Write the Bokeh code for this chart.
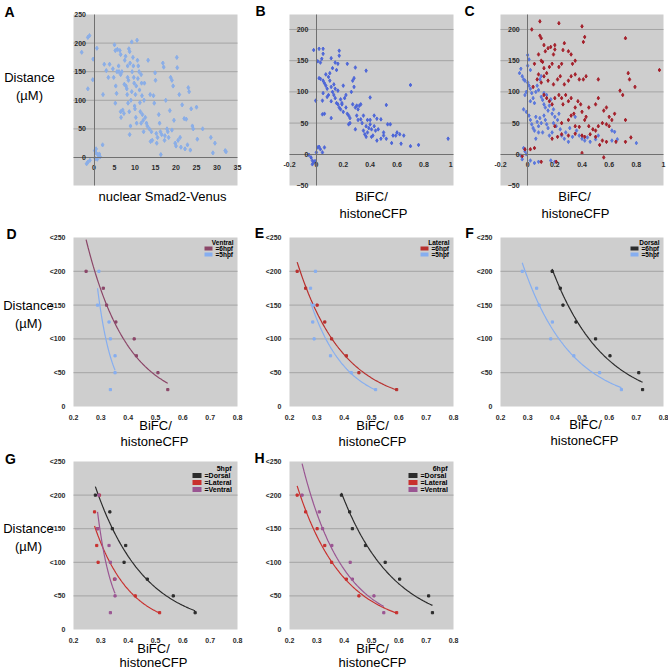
import numpy as np
from bokeh.plotting import figure
from bokeh.models import Range1d, LinearAxis, FixedTicker, Label, BoxAnnotation
from bokeh.layouts import row, column
from bokeh.embed import file_html
from bokeh.resources import INLINE

# ---------------- data ----------------
A_X = [-1.5, -1.1, -3.0, -0.2, 0.7, -0.3, -1.5, 2.2, 2.1,
       0.2, 0.5, 0.9, 1.2, 1.5, 0.3, -1.5, -1.8, -1.0, 0.8, 1.3, 0.5,
       2.5, 3, 3.5, 3.8, 4.6, 4.8, 5, 5.2, 5.3, 5.5,
       5.2, 5.7, 6.3, 6.1, 6, 6.5, 6.5, 6.5, 6.6, 7,
       7.3, 7.5, 7.7, 7.8, 8, 8.1, 8.2, 8.4, 8.3, 8.5,
       8.7, 8.8, 8.6, 8.7, 8.9, 9, 9.2, 9.3, 9.2, 9.5,
       9.6, 9.7, 9.8, 9.9, 10, 10.1, 10.3, 10.2, 10.4, 10.5,
       10.6, 10.8, 10.7, 11, 11.1, 11.2, 11.3, 11.5, 11.6, 11.7,
       11.8, 12, 12.1, 12.2, 12.3, 12.5, 12.8, 13, 13.2, 13.5,
       13.7, 14, 14.2, 14.5, 14.7, 14.9, 15, 15.2, 15.5, 15.3,
       15.8, 16, 16.2, 16.5, 16.3, 16.8, 17, 17.2, 17.5, 17.8,
       18, 18.2, 18.5, 18.7, 19, 19.3, 19.5, 19.8, 20, 20.2,
       20.3, 20.5, 20.8, 21, 21.2, 21.5, 22, 22.2, 22.5, 23,
       23.2, 23.5, 23.7, 24, 24.2, 25, 25.2, 26.5, 28.5, 29,
       29.5, 32, 32.2, 22.8, 19, 17.3, 13.8, 11.5, 8.2, 7.4,
       6.8, 5.6]
A_Y = [210, 213, 184, 172, 191, 136, 120, 110, 22,
       12, 8, 5, 3, 1, -2, -8, -11, -5, -3, 6, 15,
       163, 152, 140, 163, 155, 140, 197, 187, 125, 112,
       95, 189, 187, 150, 160, 145, 180, 80, 70, 83,
       77, 170, 177, 125, 120, 110, 140, 135, 95, 190,
       185, 165, 80, 40, 55, 100, 115, 150, 202, 175,
       160, 140, 130, 90, 85, 110, 125, 70, 60, 205,
       170, 160, 138, 150, 118, 96, 80, 145, 130, 108,
       75, 65, 45, 100, 130, 70, 60, 55, 170, 50,
       110, 45, 30, 108, 95, 148, 135, 42, 35, 25,
       75, 60, 45, 40, 5, 165, 158, 30, 100, 50,
       45, 35, 82, 140, 135, 125, 65, 25, 20, 175,
       157, 30, 110, 35, 18, 92, 68, 15, 67, 122,
       115, 13, 85, 55, 50, 88, 32, 50, 35, 8,
       25, 12, 10, 22, 48, 38, 28, 60, 160, 128,
       150, 150]

B_X = [-0.055, -0.04, -0.03, -0.02, 0, 0.01, 0.02, 0.03, 0.045, 0.06, -0.03, -0.01,
       -0.02, 0.02, 0.05, 0.05, 0.04, 0.01, 0.03, 0.17, 0.17, 0.11,
       0.14, 0.16, 0.23, 0.29, 0.37, -0.005, 0.045, 0.045, 0.11, 0.70,
       0.40, 0.52,
       0.02, 0.03, 0.05, 0.06, 0.07, 0.08, 0.09, 0.1, 0.1, 0.11,
       0.12, 0.12, 0.13, 0.13, 0.14, 0.14, 0.15, 0.15, 0.16, 0.16,
       0.17, 0.18, 0.18, 0.19, 0.2, 0.2, 0.21, 0.22, 0.23, 0.24,
       0.25, 0.25, 0.26, 0.27, 0.27, 0.28, 0.28, 0.29, 0.3, 0.3,
       0.31, 0.31, 0.32, 0.33, 0.34, 0.35, 0.35, 0.36, 0.37, 0.37,
       0.38, 0.39, 0.4, 0.4, 0.41, 0.42, 0.43, 0.43, 0.44, 0.45,
       0.45, 0.46, 0.48, 0.48, 0.5, 0.5, 0.52, 0.53, 0.55, 0.56,
       0.57, 0.59, 0.6, 0.62, 0.63, 0.65, 0.7, 0.76, 0.98, 0.06,
       0.09, 0.05, 0.07, 0.08, 0.11, 0.19, 0.22, 0.24, 0.33, 0.29,
       0.38, 0.41]
B_Y = [-1, -5, -10, -13, 3, 11, 12, 8, 3, 11, -16, -11,
       167, 169, 169, 161, 153, 149, 147, 166, 158, 154,
       147, 145, 145, 139, 134, 86, 86, 64, 58, 111,
       91, 79,
       122, 121, 118, 114, 110, 105, 124, 130, 118, 108,
       100, 138, 112, 95, 105, 90, 82, 135, 102, 80,
       75, 88, 72, 82, 110, 68, 90, 75, 65, 62,
       58, 50, 100, 118, 80, 122, 108, 75, 78, 62,
       55, 72, 78, 56, 50, 38, 62, 32, 28, 45,
       35, 42, 55, 48, 40, 30, 62, 45, 38, 22,
       57, 40, 25, 56, 35, 30, 25, 48, 48, 18,
       30, 30, 35, 32, 17, 30, 13, 15, 25, 65,
       95, 98, 128, 92, 85, 80, 95, 48, 80, 40,
       55, 28]

C_BLUE_X = [-0.06, -0.05, -0.03, -0.04, -0.02, 0, 0.01, 0, 0.02, 0,
            0.01, 0.02, -0.01, -0.02, 0.03, 0.04, 0.02, 0.05, 0.06, 0.07,
            0.08, 0.09, 0.1, 0.1, 0.11, 0.12, 0.12, 0.13, 0.14, 0.15,
            0.16, 0.17, 0.18, 0.19, -0.03, -0.01, 0.01, 0.02, 0.03, 0.04,
            0.05, 0.06, 0.07, 0.08, 0.09, 0.1, 0.11, 0.12, 0.13, 0.14,
            0.15, 0.16, 0.18, 0.19, 0.2, 0.21, 0.22, 0.23, 0.24, 0.25,
            0.27, 0.28, 0.3, 0.31, 0.33, 0.35, 0.36, 0.38, 0.4, 0.42,
            0.44, 0.46, 0.5, 0.52, 0.62, 0.64, 0.66, 0.8, 0.62, 0.06,
            0.08, -0.03, -0.02, -0.01, -0.05, -0.04, 0.02, 0.08, 0.17, 0.2,
            0.05]
C_BLUE_Y = [130, 137, 120, 125, 118, 159, 152, 142, 135, 115,
            110, 105, 100, 95, 98, 90, 85, 82, 100, 110,
            103, 120, 125, 92, 87, 80, 98, 75, 95, 70,
            78, 88, 65, 72, 72, 68, 62, 55, 48, 42,
            38, 60, 52, 45, 58, 50, 35, 62, 55, 48,
            42, 30, 35, 50, 60, 45, 55, 65, 40, 30,
            25, 35, 20, 42, 28, 60, 38, 30, 25, 22,
            27, 20, 24, 30, 38, 36, 24, 18, 22, 25,
            35, 10, 5, 0, -2, -8, -10, -12, -10, -12,
            -14]

C_RED_X = [0.09, 0.03, 0.23, 0.4, 0.42, 0.41, 0.72, 0.09, 0.1, 0.12,
           0.13, 0.15, 0.17, 0.19, 0.2, 0.2, 0.25, 0.26, 0.27, 0.3,
           0.32, 0.33, 0.35, 0.08, 0.1, 0.11, 0.12, 0.14, 0.16, 0.18,
           0.23, 0.05, 0.08, 0.12, 0.07, 0.04, 0.1, 0.15, 0.19, 0.22,
           0.24, 0.27, 0.3, 0.32, 0.35, 0.38, 0.41, 0.43, 0.52, 0.74,
           0.75, 0.79, 0.97, 0.68, 0.7, 0.12, 0.14, 0.16, 0.18, 0.2,
           0.23, 0.25, 0.26, 0.28, 0.3, 0.32, 0.35, 0.37, 0.39, 0.4,
           0.45, 0.5, 0.52, 0.56, 0.58, 0.6, 0.62, 0.64, 0.72, 0.42,
           0.43, 0.32, 0.34, 0.3, 0.25, 0.2, 0.45, 0.48, 0.5, 0.52,
           0.55, 0.58, 0.6, 0.25, 0.3, 0.35, 0.4, 0.42, 0.46, 0.5,
           0.55, 0.58, 0.65, 0.72, 0.76, 0.35, 0.38, 0.53, 0.02, -0.02,
           -0.04, 0.05, 0.1, 0.4, 0.56, 0.21, 0.18, 0.22]
C_RED_Y = [213, 200, 210, 205, 188, 180, 186, 190, 186, 175,
           165, 170, 172, 160, 168, 175, 145, 167, 178, 165,
           160, 145, 150, 160, 150, 148, 138, 130, 140, 145,
           140, 145, 128, 125, 120, 108, 115, 118, 112, 120,
           125, 112, 118, 125, 128, 120, 120, 125, 120, 130,
           120, 108, 135, 102, 95, 95, 90, 85, 80, 90,
           95, 90, 80, 95, 85, 90, 75, 85, 80, 68,
           75, 80, 90, 70, 75, 60, 55, 65, 55, 55,
           60, 62, 65, 55, 50, 45, 45, 40, 38, 45,
           50, 48, 45, 32, 30, 33, 30, 28, 32, 28,
           22, 20, 20, 20, 27, 45, 44, 15, 8, 8,
           -3, 10, -12, 2, -5, -12, 25, 28]

# binned distance data (BiFC/histoneCFP per distance bin)
DIST8 = [200, 175, 150, 125, 100, 75, 50, 25]
DIST7 = [200, 150, 125, 100, 75, 50, 25]
VENTRAL_6HPF_X = [0.246, 0.309, 0.321, 0.355, 0.422, 0.43, 0.509, 0.545]
VENTRAL_5HPF_X = [0.293, 0.288, 0.33, 0.335, 0.352, 0.352, 0.335]
LATERAL_6HPF_X = [0.228, 0.259, 0.301, 0.329, 0.354, 0.408, 0.454, 0.592]
LATERAL_5HPF_X = [0.295, 0.277, 0.288, 0.285, 0.29, 0.35, 0.426, 0.515]
DORSAL_6HPF_X = [0.39, 0.42, 0.43, 0.478, 0.55, 0.603, 0.709, 0.723]
DORSAL_5HPF_X = [0.28, 0.333, 0.342, 0.391, 0.385, 0.47, 0.565, 0.645]

# tick values / labels
A_XTICKS = [0, 5, 10, 15, 20, 25, 30, 35]
A_YTICKS = [0, 50, 100, 150, 200, 250]
BC_XTICKS = [-0.2, 0, 0.2, 0.4, 0.6, 0.8, 1]
BC_XLABELS = ["-0.2", "0", "0.2", "0.4", "0.6", "0.8", "1"]
BC_YTICKS = [-50, 0, 50, 100, 150, 200]
DH_XTICKS = [0.2, 0.3, 0.4, 0.5, 0.6, 0.7, 0.8]
DH_XLABELS = ["0.2", "0.3", "0.4", "0.5", "0.6", "0.7", "0.8"]
DH_YTICKS = [0, 50, 100, 150, 200, 250]
DH_YLABELS = ["0", "<50", "<100", "<150", "<200", "<250"]
GRID_TICKS = [50, 100, 150, 200]

# ---------------- style / layout ----------------
FONT = "Liberation Sans"
BG = "#cecece"
GRID = "#a4a4a4"
AXIS = "#707070"
TICK_TXT = "#2a2a2a"
A_COLOR = "#8aaee8"
B_COLOR = "#4d66d8"
C_BLUE = "#5b78dc"
C_RED = "#a41f2a"
COL_VENT6 = "#8b4668"
COL_BLUE5 = "#86aef0"
COL_LAT6 = "#b8302e"
COL_DARK = "#2b2b2b"
COL_LAT = "#c8302e"
COL_VENT = "#9a5592"

COL_W = [252, 207, 209]
ROW_H = [224, 225, 221]
BORDER_L = [73, 37, 41]
BORDER_R = [15, 6, 5]
BORDER_T = [14, 13, 12]
BORDER_B = [39, 43, 41]


def make_fig(r, c, xb, yb):
    W, H = COL_W[c], ROW_H[r]
    L, R = BORDER_L[c], W - BORDER_R[c]
    T, B = BORDER_T[r], H - BORDER_B[r]
    kx = (xb[1] - xb[0]) / (R - L)
    ky = (yb[1] - yb[0]) / (B - T)
    p = figure(width=W, height=H,
               x_range=Range1d(xb[0] - L * kx, xb[1] + (W - R) * kx),
               y_range=Range1d(yb[0] - (H - B) * ky, yb[1] + T * ky),
               x_axis_type=None, y_axis_type=None, toolbar_location=None,
               output_backend="svg", title=None, min_border=0)
    p.background_fill_color = "white"
    p.border_fill_color = "white"
    p.outline_line_color = None
    p.add_layout(BoxAnnotation(left=xb[0], right=xb[1], bottom=yb[0], top=yb[1],
                               fill_color=BG, fill_alpha=1, line_color=None, level="underlay"))
    p.segment(x0=xb[0], x1=xb[1], y0=GRID_TICKS, y1=GRID_TICKS, line_color=GRID, line_width=1)
    p._rc = (r, c)
    p._box = (L, R, T, B, W, H)
    return p


def style_axis(ax):
    ax.major_tick_line_color = None
    ax.minor_tick_line_color = None
    ax.major_label_text_font = FONT
    ax.major_label_text_font_size = "7px"
    ax.major_label_text_font_style = "bold"
    ax.major_label_text_color = TICK_TXT
    ax.major_label_standoff = 2


def label(p, x, y, text, size, bold=False, align="center"):
    p.add_layout(Label(x=x, y=y, x_units="screen", y_units="screen", text=text,
                       text_font=FONT, text_font_size=size,
                       text_font_style="bold" if bold else "normal",
                       text_color="black", text_align=align, text_baseline="middle"))


def add_text(p, px, py, text, size="13px", bold=False):
    # px, py: page position (top-left origin)
    r, c = p._rc
    x0 = sum(COL_W[:c])
    y0 = sum(ROW_H[:r])
    label(p, px - x0, y0 + ROW_H[r] - py, text, size, bold)


def crossing_axes(p, xb, yb, xticks, yticks, xlabels=None):
    ya = LinearAxis(fixed_location=0, ticker=FixedTicker(ticks=yticks), bounds=yb)
    xa = LinearAxis(fixed_location=0, ticker=FixedTicker(ticks=xticks), bounds=xb)
    if xlabels is not None:
        xa.major_label_overrides = dict(zip(xticks, xlabels))
    for ax in (xa, ya):
        style_axis(ax)
        ax.axis_line_color = AXIS
        ax.axis_line_width = 1
    p.add_layout(ya, "left")
    p.add_layout(xa, "below")


def box_axes(p):
    ya = LinearAxis(fixed_location=DH_XTICKS[0], ticker=FixedTicker(ticks=DH_YTICKS),
                    major_label_overrides=dict(zip(DH_YTICKS, DH_YLABELS)))
    xa = LinearAxis(fixed_location=DH_YTICKS[0], ticker=FixedTicker(ticks=DH_XTICKS),
                    major_label_overrides=dict(zip(DH_XTICKS, DH_XLABELS)))
    for ax in (xa, ya):
        style_axis(ax)
        ax.axis_line_color = None
    p.add_layout(ya, "left")
    p.add_layout(xa, "below")


def exp_trend(xs, ys):
    xs = np.asarray(xs, float)
    ys = np.asarray(ys, float)
    b, a = np.polyfit(xs, np.log(ys), 1)
    xx = np.linspace(xs.min(), xs.max(), 80)
    return xx, np.exp(a + b * xx)


def key_box(p, title, entries, fs, offs, sw, txt_l, title_r, sw_h):
    L, R, T, B, W, H = p._box
    top = H - T
    label(p, R - title_r, top - offs[0], title, f"{fs}px", True, "right")
    for i, (lab, color) in enumerate(entries):
        yy = top - offs[i + 1]
        p.add_layout(BoxAnnotation(left=R - sw[0], right=R - sw[1],
                                   bottom=yy - sw_h / 2, top=yy + sw_h / 2,
                                   left_units="screen", right_units="screen",
                                   bottom_units="screen", top_units="screen",
                                   fill_color=color, fill_alpha=1, line_color=None))
        label(p, R - txt_l, yy, lab, f"{fs}px", True, "left")


# ---------------- row 1 ----------------
A_XB, A_YB = (-5, 35), (-49, 250)
pA = make_fig(0, 0, A_XB, A_YB)
crossing_axes(pA, A_XB, A_YB, A_XTICKS, A_YTICKS)
pA.scatter(A_X, A_Y, marker="diamond", size=4.2, color=A_COLOR)
add_text(pA, 9, 11, "A", "14px", True)
add_text(pA, 29, 77, "Distance")
add_text(pA, 29, 95, "(\u00b5M)")
add_text(pA, 162, 196, "nuclear Smad2-Venus")

B_XB, B_YB = (-0.2, 1.02), (-50, 224)
pB = make_fig(0, 1, B_XB, B_YB)
crossing_axes(pB, B_XB, B_YB, BC_XTICKS, BC_YTICKS, BC_XLABELS)
pB.scatter(B_X, B_Y, marker="diamond", size=3.6, color=B_COLOR)
add_text(pB, 260, 10, "B", "14px", True)
add_text(pB, 371, 196, "BiFC/")
add_text(pB, 373, 213, "histoneCFP")

C_XB, C_YB = (-0.2, 1.0), (-50, 224)
pC = make_fig(0, 2, C_XB, C_YB)
crossing_axes(pC, C_XB, C_YB, BC_XTICKS, BC_YTICKS, BC_XLABELS)
pC.scatter(C_BLUE_X, C_BLUE_Y, marker="diamond", size=3.6, color=C_BLUE)
pC.scatter(C_RED_X, C_RED_Y, marker="diamond", size=3.6, color=C_RED)
add_text(pC, 469, 10, "C", "14px", True)
add_text(pC, 574, 196, "BiFC/")
add_text(pC, 575, 213, "histoneCFP")


# ---------------- rows 2, 3 ----------------
def trend_panel(r, c, title, series, big):
    p = make_fig(r, c, (DH_XTICKS[0], DH_XTICKS[-1]), (DH_YTICKS[0], DH_YTICKS[-1]))
    box_axes(p)
    for xs, ys, color, lab in series:
        xx, yy = exp_trend(xs, ys)
        p.scatter(xs, ys, marker="square", size=2.2, color=color)
        p.line(xx, yy, line_color=color, line_width=1.2)
    entries = [(s[3], s[2]) for s in series]
    if big:
        key_box(p, title, entries, 7, [7, 14, 21, 28], (45, 36), 33, 6, 5)
    else:
        key_box(p, title, entries, 6.5, [5, 11, 17], (33, 25), 22, 4, 4)
    return p


pD = trend_panel(1, 0, "Ventral", [
    (VENTRAL_6HPF_X, DIST8, COL_VENT6, "=6hpf"),
    (VENTRAL_5HPF_X, DIST7, COL_BLUE5, "=5hpf")], False)
add_text(pD, 11, 233, "D", "14px", True)
add_text(pD, 28, 305, "Distance")
add_text(pD, 28, 323, "(\u00b5M)")
add_text(pD, 155, 425, "BiFC/")
add_text(pD, 154, 441, "histoneCFP")

pE = trend_panel(1, 1, "Lateral", [
    (LATERAL_6HPF_X, DIST8, COL_LAT6, "=6hpf"),
    (LATERAL_5HPF_X, DIST8, COL_BLUE5, "=5hpf")], False)
add_text(pE, 259, 232, "E", "14px", True)
add_text(pE, 372, 425, "BiFC/")
add_text(pE, 372, 441, "histoneCFP")

pF = trend_panel(1, 2, "Dorsal", [
    (DORSAL_6HPF_X, DIST8, COL_DARK, "=6hpf"),
    (DORSAL_5HPF_X, DIST8, COL_BLUE5, "=5hpf")], False)
add_text(pF, 469, 232, "F", "14px", True)
add_text(pF, 585, 424, "BiFC/")
add_text(pF, 584, 440, "histoneCFP")

pG = trend_panel(2, 0, "5hpf", [
    (DORSAL_5HPF_X, DIST8, COL_DARK, "=Dorsal"),
    (LATERAL_5HPF_X, DIST8, COL_LAT, "=Lateral"),
    (VENTRAL_5HPF_X, DIST7, COL_VENT, "=Ventral")], True)
add_text(pG, 10, 458, "G", "14px", True)
add_text(pG, 28, 528, "Distance")
add_text(pG, 28, 546, "(\u00b5M)")
add_text(pG, 153, 648, "BiFC/")
add_text(pG, 153, 662, "histoneCFP")

pH = trend_panel(2, 1, "6hpf", [
    (DORSAL_6HPF_X, DIST8, COL_DARK, "=Dorsal"),
    (LATERAL_6HPF_X, DIST8, COL_LAT, "=Lateral"),
    (VENTRAL_6HPF_X, DIST8, COL_VENT, "=Ventral")], True)
add_text(pH, 259, 457, "H", "14px", True)
add_text(pH, 372, 648, "BiFC/")
add_text(pH, 372, 662, "histoneCFP")

layout = column(row(pA, pB, pC), row(pD, pE, pF), row(pG, pH))
open("out.html", "w").write(file_html(layout, INLINE))
